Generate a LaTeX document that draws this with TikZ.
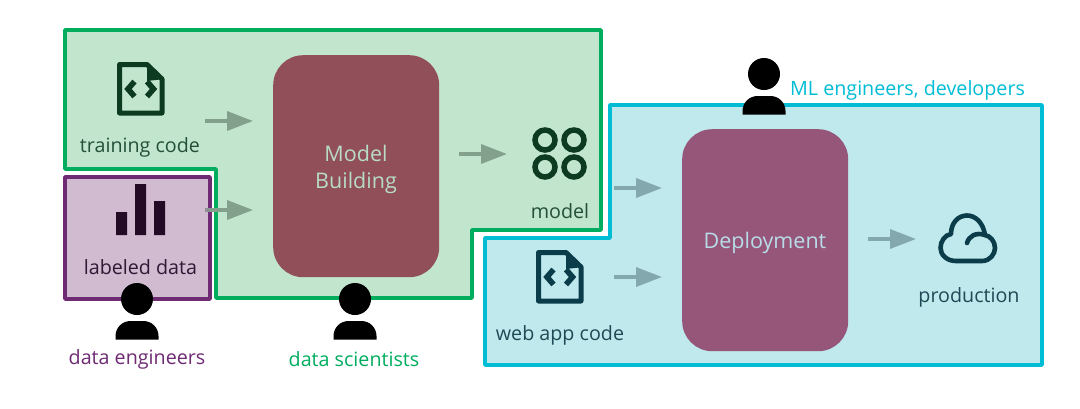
\documentclass[tikz,border=0pt]{standalone}
\usepackage{fontspec}
\setmainfont{Open Sans}
\usetikzlibrary{arrows.meta}
\definecolor{gfill}{HTML}{C1E5CD}
\definecolor{gline}{HTML}{00AD5F}
\definecolor{pfill}{HTML}{D0BBD1}
\definecolor{pline}{HTML}{6E2A73}
\definecolor{tfill}{HTML}{C0E9EE}
\definecolor{tline}{HTML}{00BCD4}
\definecolor{mbox}{HTML}{914F5A}
\definecolor{dbox}{HTML}{95567A}
\definecolor{gdark}{HTML}{0D3B22}
\definecolor{pdark}{HTML}{230B25}
\definecolor{tdark}{HTML}{0B3C49}
\definecolor{gtext}{HTML}{24503A}
\definecolor{ptext}{HTML}{2E1A35}
\definecolor{ttext}{HTML}{1F4A55}
\definecolor{boxtxtg}{HTML}{B9DCC6}
\definecolor{boxtxtt}{HTML}{B9DDE8}
\definecolor{garrow}{HTML}{83A08C}
\definecolor{tarrow}{HTML}{83A8AE}
\definecolor{parrow}{HTML}{8E8E96}
\tikzset{
  region/.style={line width=3.6pt,line join=round},
  stagebox/.style={rounded corners=30pt,minimum width=166pt,minimum height=222pt,inner sep=0pt,anchor=north west},
  lbl/.style={anchor=base,inner sep=0pt,font=\fontsize{19.7}{24}\selectfont},
  stagelbl/.style={anchor=base,inner sep=0pt,font=\fontsize{21.5}{26}\selectfont},
  flow/.style={line width=3.4pt,-{Triangle[length=26pt,width=19pt]}},
  pics/docicon/.style={code={
    \draw[#1,line width=5pt,line join=round] (2.5,2.5) -- (30,2.5) -- (45,17) -- (45,51) -- (2.5,51) -- cycle;
    \fill[#1,line join=round] (30,0) -- (47.5,17) -- (30,19) -- cycle;
    \draw[#1,line width=5.6pt] (17.5,19.5) -- (11,27) -- (17.5,34.5);
    \draw[#1,line width=5.6pt] (30,19.5) -- (36.5,27) -- (30,34.5);
  }},
  pics/person/.style={code={
    \fill[black] (0,0) circle (16pt);
    \fill[black] (-21.5,40.5) -- (-21.5,37) arc[start angle=180,end angle=90,radius=15pt] -- (6.5,22) arc[start angle=90,end angle=0,radius=15pt] -- (21.5,40.5) -- cycle;
  }},
}
\begin{document}
\begin{tikzpicture}[x=1pt,y=-1pt]
\useasboundingbox (0,0) rectangle (1080,408);
% regions
\draw[region,fill=gfill,draw=gline] (65,30) -- (601,30) -- (601,230) -- (472,230) -- (472,298) -- (216,298) -- (216,169) -- (65,169) -- cycle;
\draw[region,fill=pfill,draw=pline] (65,177) rectangle (210,299);
\draw[region,fill=tfill,draw=tline] (610,105) -- (1042,105) -- (1042,365) -- (485,365) -- (485,238) -- (610,238) -- cycle;
% stages
\node[stagebox,fill=mbox] (modelbuilding) at (273,55) {};
\node[stagebox,fill=dbox] (deployment) at (682,129) {};
\node[stagelbl,text=boxtxtg] (mbl1) at (356,161) {Model};
\node[stagelbl,text=boxtxtg] (mbl2) at (356,188) {Building};
\node[stagelbl,text=boxtxtt] (dpl) at (765,248) {Deployment};
% icons
\pic at (117,62) {docicon=gdark};
\pic at (536,250) {docicon=tdark};
\fill[pdark] (116,212) rectangle (127,235) (135,184) rectangle (146,235) (154,201) rectangle (165,235);
\foreach \cx/\cy in {545/140,574/140,545/167,574/167}
  \draw[gdark,line width=5.5pt] (\cx,\cy) circle (10pt);
% cloud
\draw[tdark,line width=4.6pt,line cap=round,line join=round] (956,261) -- (982,261)
  .. controls (990,261) and (995,254) .. (995,248)
  .. controls (995,241) and (990,236) .. (985,235)
  .. controls (983,222) and (975,215.5) .. (967,215.5)
  .. controls (958,215.5) and (951,223) .. (951,234)
  .. controls (945,235) and (940.5,241) .. (940.5,248)
  .. controls (940.5,255) and (947,261) .. (956,261) -- cycle;
\draw[tdark,line width=4.6pt,line cap=round] (967,243) .. controls (969,236) and (976,232) .. (985,235);
% persons
\pic at (137,299) {person};
\pic at (355,299) {person};
\pic at (764,74) {person};
% labels
\node[lbl,text=gtext] (tc) at (140,152) {training code};
\node[lbl,text=ptext] (ld) at (140.5,274) {labeled data};
\node[lbl,text=gtext] (md) at (560,218) {model};
\node[lbl,text=ttext] (wc) at (560,340) {web app code};
\node[lbl,text=ttext] (pr) at (969,302) {production};
\node[lbl,text=pline] (de) at (137,364) {data engineers};
\node[lbl,text=gline] (ds) at (354,366) {data scientists};
\node[lbl,text=tline,anchor=base west] (ml) at (790,95) {ML engineers, developers};
% arrows
\coordinate (a1s) at (205,121); \coordinate (a1e) at (253,121);
\coordinate (a2s) at (205,210); \coordinate (a2e) at (253,210);
\coordinate (a3s) at (459,154); \coordinate (a3e) at (507,154);
\coordinate (a4s) at (614,188); \coordinate (a4e) at (662,188);
\coordinate (a5s) at (614,277); \coordinate (a5e) at (662,277);
\coordinate (a6s) at (868,239); \coordinate (a6e) at (916,239);
\draw[flow,garrow] (a1s) -- (a1e);
\draw[flow,garrow] (a2s) -- (a2e);
\draw[line width=3.4pt,parrow] (a2s) -- (210,210);
\draw[flow,garrow] (a3s) -- (a3e);
\draw[flow,tarrow] (a4s) -- (a4e);
\draw[flow,tarrow] (a5s) -- (a5e);
\draw[flow,tarrow] (a6s) -- (a6e);
\end{tikzpicture}
\end{document}
